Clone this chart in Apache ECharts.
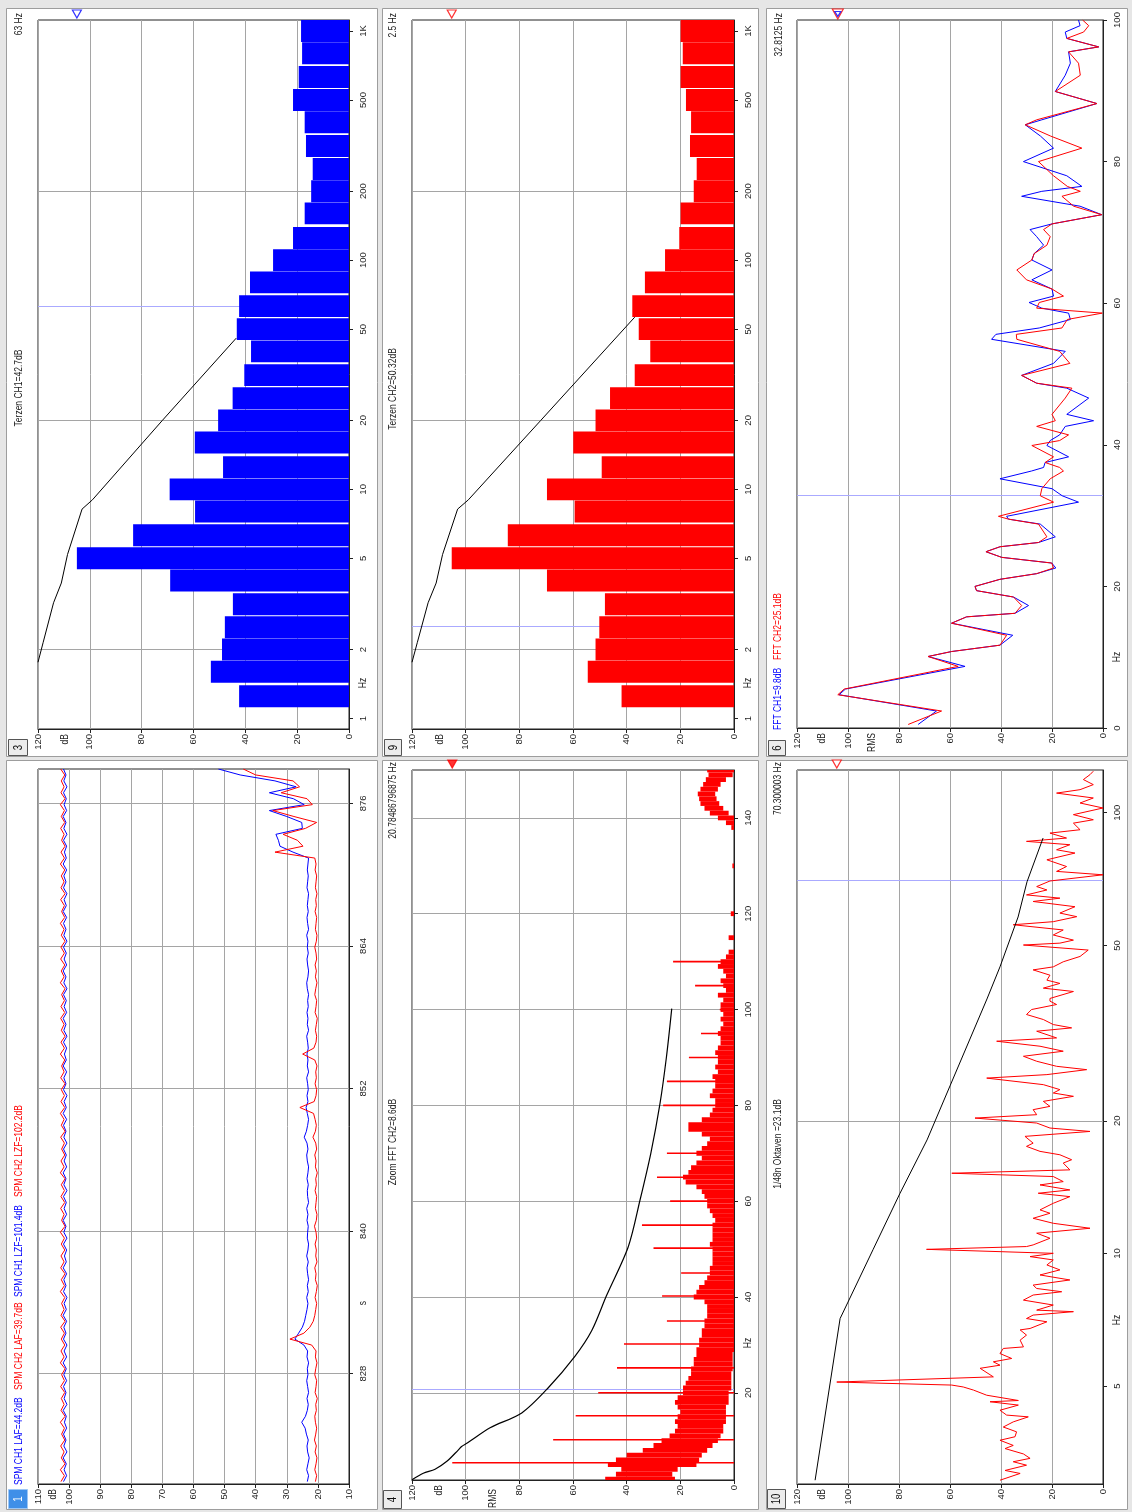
<!DOCTYPE html>
<html>
<head>
<meta charset="utf-8">
<script src="https://cdn.jsdelivr.net/npm/echarts@6/dist/echarts.min.js"></script>
<style>
html, body { margin: 0; padding: 0; background: #e6e6e6; }
#main { width: 1132px; height: 1512px; }
</style>
</head>
<body>
<div id="main"></div>
<script>
var FONT = "'Liberation Sans', Arial, sans-serif";
var NARROW = 0.74;   // squeeze factor to get an Arial Narrow look
var BLUE = '#0000ff';
var RED = '#ff0000';

// panels 3 + 9: third-octave bands
var terzFreq = [1.25, 1.6, 2, 2.5, 3.15, 4, 5, 6.3, 8, 10, 12.5, 16, 20, 25, 31.5, 40, 50, 63, 80, 100, 125, 160, 200, 250, 315, 400, 500, 630, 800, 1000];
var terzCh1 = [42.4, 53.3, 49, 47.9, 44.8, 69, 105, 83.3, 59.4, 69.2, 48.6, 59.5, 50.5, 44.9, 40.4, 37.8, 43.3, 42.4, 38.2, 29.3, 21.6, 17.1, 14.6, 14, 16.6, 17.1, 21.6, 19.4, 18.1, 18.5];
var terzCh2 = [41.9, 54.5, 51.6, 50.2, 48.1, 69.7, 105.2, 84.3, 59.4, 69.7, 49.3, 59.9, 51.6, 46.2, 37, 31.2, 35.5, 37.9, 33.2, 25.7, 20.4, 19.9, 15, 13.9, 16.4, 16, 17.9, 19.9, 19.1, 19.9];
// visible part of the black limit curve in each panel
var limitFreq1 = [1.76, 2.15, 3.2, 3.9, 5.2, 8.2, 9.0, 20, 45.7];
var limitLevel1 = [120, 118, 114, 111, 108.6, 103, 99, 72, 43.5];
var limitFreq2 = [1.76, 2.15, 3.2, 3.9, 5.2, 8.2, 9.0, 20, 56.4];
var limitLevel2 = [120, 118, 114, 111, 108.6, 103, 99, 72, 37];
var terzTicks = [1, 2, 5, 10, 20, 50, 100, 200, 500, 1000];
var terzGrid = [2, 20, 200];

// panel 6: FFT
var fftFreq = [0.5, 2.4, 4.7, 5.5, 8.7, 10.1, 10.8, 11.7, 13.1, 14.8, 15.7, 16.2, 17.3, 18.5, 19.4, 20.0, 21.0, 21.8, 22.6, 23.3, 24.1, 24.9, 25.6, 26.2, 27.0, 28.8, 29.5, 29.9, 31.9, 32.8, 33.8, 35.2, 36.3, 36.8, 37.5, 38.3, 39.9, 40.6, 41.4, 42.6, 43.4, 44.3, 46.6, 48.0, 48.7, 49.8, 51.5, 53.2, 54.9, 55.6, 56.5, 57.7, 58.6, 59.3, 60.1, 61.0, 62.0, 63.3, 64.7, 66.1, 67.0, 68.2, 69.4, 70.4, 71.2, 72.5, 73.7, 75.1, 75.8, 76.5, 78.0, 80.0, 81.9, 83.6, 85.2, 85.9, 88.2, 89.9, 92.2, 93.9, 95.5, 96.2, 97.4, 98.3, 99.2, 100];
var fftCh1 = [72.5, 65.3, 103.5, 101, 54.1, 68.6, 59.4, 40.4, 35.4, 59.4, 53.5, 34.5, 29.2, 35.1, 49.6, 50.2, 40.4, 26, 18.5, 20.1, 39.7, 45.9, 40.4, 25.3, 18.7, 24.6, 37.1, 37.8, 9.6, 16, 20, 40.4, 28, 23.3, 22.7, 13.5, 22, 20.7, 17, 14.8, 3.7, 14.2, 5.6, 14.2, 26, 31.9, 19.4, 14.8, 43.7, 42, 25, 12.8, 13.5, 24, 29, 19.4, 20, 27.9, 20, 27.9, 27, 23.3, 26, 28.6, 20, 0.5, 9, 31.9, 24, 8.3, 14.2, 31.2, 19.4, 24.5, 30.5, 24, 2.4, 18.7, 14.8, 12.8, 13.5, 1.7, 14.2, 14.8, 9, 9.6];
var fftCh2 = [76.4, 63.3, 104, 101.5, 56.8, 68.6, 59.4, 40.4, 37.8, 59.4, 53.5, 34.5, 31.9, 35.1, 49.6, 50.2, 40.4, 26, 19.4, 20.1, 39.7, 45.9, 40.4, 25.3, 22, 25.3, 37.1, 41, 19.4, 24.6, 24, 20.7, 15.5, 17, 22.7, 19.4, 27.9, 17, 13.5, 26, 18.7, 20, 14.8, 12.2, 26, 31.9, 13, 17, 33.8, 34, 16.1, 14, 0.3, 26, 25, 15.5, 20, 30, 33.8, 27.9, 27, 22, 20.7, 23.3, 20, 0.5, 11.5, 16.1, 8.9, 14, 19.4, 25.3, 8.3, 20.5, 30.5, 26, 2.4, 18.7, 8.9, 9.6, 13.5, 1.7, 14.2, 7.6, 5.6, 8];

// panel 1: level vs time, one value every 0.5 s from 818.9 s
var spmStart = 818.9;
var spmStep = 0.5;
var spmLafCh1 = [23.4, 23.0, 23.6, 23.2, 22.8, 23.3, 23.5, 23.1, 23.7, 24.1,
  25.2, 24.0, 23.4, 23.1, 23.5, 23.0, 23.3, 23.6, 23.2, 23.4, 23.0, 23.5, 23.3,
  24.5, 27.4, 26.2, 25.0, 24.3, 23.9,
  23.5, 23.2, 23.6, 23.1, 23.4, 23.0, 23.3, 23.5, 23.1, 23.6, 23.2, 23.0, 23.4, 23.3, 23.1, 23.5, 23.2, 23.6, 23.0, 23.3, 23.4, 23.1, 23.5, 23.2, 23.0, 23.4, 23.6, 23.2, 23.5,
  24.4, 23.7,
  23.3, 23.0, 23.4, 23.8, 23.2, 23.5, 23.1, 23.3, 23.6, 23.0, 23.4, 23.2, 23.5, 23.1, 23.3, 23.6, 23.0, 23.4, 23.2, 23.5, 23.1, 23.3, 23.0, 23.4, 23.6, 23.2, 23.0, 23.3, 23.5, 23.1, 23.4, 23.2, 23.6, 23.0, 23.3, 23.5, 23.1, 23.4, 23.2, 23.0, 23.5, 23.3, 23.1, 23.4, 23.2,
  23.0, 28.0, 32.2, 32.7, 33.5, 25.0, 25.2, 30.0, 35.6, 24.4, 27.9, 35.6, 27.0, 33.8, 45.0, 52.0];
var spmLafCh2 = [20.8, 20.4, 21.0, 20.6, 20.3, 20.9, 20.5, 21.1, 20.7, 20.4,
  20.8, 21.0, 20.5, 20.7, 20.2, 20.9, 20.6, 20.4, 21.0, 20.7, 20.3, 20.8, 20.6,
  22.0, 29.0, 24.5, 22.6, 21.5, 21.0,
  20.7, 20.4, 20.9, 20.5, 20.2, 20.8, 20.6, 21.0, 20.3, 20.7, 20.5, 20.9, 20.4, 20.6, 21.1, 20.5, 20.3, 20.8, 20.6, 20.4, 20.9, 20.5, 20.7, 20.2, 20.8, 20.6, 21.0, 20.4, 20.7,
  21.6, 20.8,
  20.5, 20.9, 21.4, 25.8, 21.2, 20.6, 20.4, 20.9, 20.5, 20.7, 20.3, 21.0, 24.9, 21.3, 20.6, 20.4, 20.8, 20.5, 20.2, 20.9, 20.6, 20.4, 21.0, 20.7, 20.3, 20.8, 20.5, 20.9, 20.4, 20.6, 21.0, 20.5, 20.3, 20.8, 20.6, 20.4, 20.9, 20.5, 20.7, 20.3, 20.8, 20.6, 20.4, 20.9, 20.6,
  21.0, 33.8, 24.8, 26.6, 31.2, 24.0, 20.4, 27.7, 34.5, 21.8, 23.5, 31.8, 25.9, 28.0, 40.0, 44.0];
var spmLzfCh1 = [101.8, 100.8, 101.6, 100.9, 101.9, 100.7, 101.7, 101.0, 101.8, 100.8,
  101.5, 100.9, 101.9, 100.7, 101.6, 101.0, 101.8, 100.8, 101.7, 100.9,
  101.9, 100.8, 101.6, 100.7, 101.8, 101.0, 101.7, 100.8, 101.9, 100.9,
  101.6, 100.7, 101.8, 101.0, 101.7, 100.8, 101.9, 100.9, 101.5, 100.8,
  101.8, 100.7, 101.7, 101.0, 101.9, 100.8, 101.6, 100.9, 101.8, 100.7,
  101.7, 101.0, 101.9, 100.8, 101.6, 100.9, 101.8, 100.7, 101.7, 101.0,
  101.8, 100.8, 101.9, 100.9, 101.6, 100.7, 101.8, 101.0, 101.7, 100.8,
  101.9, 100.9, 101.5, 100.8, 101.8, 100.7, 101.7, 101.0, 101.9, 100.8,
  101.6, 100.9, 101.8, 100.7, 101.7, 101.0, 101.9, 100.8, 101.6, 100.9,
  101.8, 100.7, 101.7, 101.0, 101.8, 100.8, 101.9, 100.9, 101.6, 100.7,
  101.8, 101.0, 101.7, 100.8, 101.9, 100.9, 101.5, 100.8, 101.8, 100.7,
  101.7, 101.0, 101.9, 100.8, 101.6, 100.9, 101.8, 100.7, 101.7, 101.0, 101.8];
var spmLzfCh2 = [102.6, 101.5, 102.8, 101.3, 102.5, 101.6, 102.7, 101.4, 102.4, 101.5,
  102.8, 101.3, 102.6, 101.6, 102.5, 101.4, 102.7, 101.5, 102.4, 101.3,
  102.8, 101.6, 102.6, 101.4, 102.5, 101.5, 102.7, 101.3, 102.6, 101.6,
  102.4, 101.4, 102.8, 101.5, 102.5, 101.3, 102.7, 101.6, 102.6, 101.4,
  102.5, 101.5, 102.8, 101.3, 102.4, 101.6, 102.7, 101.4, 102.6, 101.5,
  102.5, 101.3, 102.8, 101.6, 102.6, 101.4, 102.4, 101.5, 102.7, 101.3,
  102.5, 101.6, 102.8, 101.4, 102.6, 101.5, 102.5, 101.3, 102.7, 101.6,
  102.4, 101.4, 102.8, 101.5, 102.6, 101.3, 102.5, 101.6, 102.7, 101.4,
  102.6, 101.5, 102.4, 101.3, 102.8, 101.6, 102.5, 101.4, 102.7, 101.5,
  102.6, 101.3, 102.5, 101.6, 102.8, 101.4, 102.4, 101.5, 102.7, 101.3,
  102.6, 101.6, 102.5, 101.4, 102.8, 101.5, 102.6, 101.3, 102.4, 101.6,
  102.7, 101.4, 102.5, 101.5, 102.8, 101.3, 102.6, 101.6, 102.5, 101.4, 102.7];
var spmTicks = [828, 840, 852, 864, 876];

// panel 4: zoom FFT, noise band per 1 Hz bin (low / high) plus the harmonic lines
var zoomFreq = [2, 3, 4, 5, 6, 7, 8, 9, 10, 11, 12, 13, 14, 15, 16, 17, 18, 19, 20,
  21, 22, 23, 24, 25, 26, 27, 28, 29, 30, 31, 32, 33, 34, 35, 36, 37, 38, 39, 40,
  41, 42, 43, 44, 45, 46, 47, 48, 49, 50, 51, 52, 53, 54, 55, 56, 57, 58, 59, 60,
  61, 62, 63, 64, 65, 66, 67, 68, 69, 70, 71, 72, 73, 74, 75, 76, 77, 78, 79, 80,
  81, 82, 83, 84, 85, 86, 87, 88, 89, 90, 91, 92, 93, 94, 95, 96, 97, 98, 99, 100,
  101, 102, 103, 104, 105, 106, 107, 108, 109, 110, 111, 112, 115, 120, 130,
  138, 139, 140, 141, 142, 143, 144, 145, 146, 147, 148, 149, 150];
var zoomHigh = [48, 44, 42, 47, 44, 40, 34, 30, 27, 24, 22, 21, 22, 21, 20, 21, 22, 21, 19,
  19, 18, 17, 16, 16, 15, 15, 14, 14, 13, 13, 12, 12, 11, 11, 10, 10, 10, 11, 15,
  14, 13, 11, 10, 9, 9, 8, 8, 8, 8, 9, 8, 8, 8, 8, 7, 8, 9, 10, 10,
  11, 12, 14, 18, 19, 17, 16, 14, 12, 14, 12, 10, 9, 12, 17, 17, 12, 9, 8, 7,
  7, 9, 8, 7, 7, 8, 6, 7, 6, 6, 7, 6, 5, 5, 6, 5, 4, 5, 4, 5,
  5, 4, 6, 3, 4, 5, 3, 4, 6, 5, 3, 2, 2, 1.2, 0.6,
  1, 3, 6, 9, 11, 12.5, 13, 13.5, 12.5, 11.5, 10.5, 9.5, 10];
var zoomLow = [22, 23, 21, 14, 13, 12, 10, 8, 6, 5, 4, 4, 3, 3, 3, 3, 2, 2, 2,
  1, 1, 1, 1, 0.5, 0.5, 0.5, 0.5, 0, 0, 0, 0, 0, 0, 0, 0, 0, 0, 0, 0,
  0, 0, 0, 0, 0, 0, 0, 0, 0, 0, 0, 0, 0, 0, 0, 0, 0, 0, 0, 0,
  0, 0, 0, 0, 0, 0, 0, 0, 0, 0, 0, 0, 0, 0, 0, 0, 0, 0, 0, 0,
  0, 0, 0, 0, 0, 0, 0, 0, 0, 0, 0, 0, 0, 0, 0, 0, 0, 0, 0, 0,
  0, 0, 0, 0, 0, 0, 0, 0, 0, 0, 0, 0, 0, 0, 0,
  0, 0, 0, 2, 4, 5.5, 6.5, 7, 6, 5, 3, 0.5, 0];
var zoomSpikeFreq = [5.4, 10.2, 15.2, 20, 25.2, 30.2, 35, 40.2, 45, 50.2, 55, 60, 65, 70, 80, 85, 90, 95, 100, 105, 110];
var zoomSpikeLevel = [105, 67.4, 59, 50.6, 43.6, 41, 25, 26.8, 19.7, 30, 34.3, 23.8, 28.7, 25, 26.4, 25, 16.8, 12.3, 5.3, 14.5, 22.7];
var zoomCurveFreq = [1.84, 3.2, 4.06, 5.7, 8.1, 8.8, 9.5, 12.7, 15.8, 21, 27.6, 33, 40.3, 50.5, 60.3, 70, 80.3, 90, 100.2];
var zoomCurveLevel = [120, 115.8, 111.4, 107, 102.7, 101.5, 99.4, 90.9, 79.1, 69.3, 59.3, 53, 47.5, 39.4, 35, 31, 27.6, 25.2, 23.2];
var zoomTicks = [20, 40, 60, 80, 100, 120, 140];

// panel 10: 1/48 octave
var octFreq = [3.06, 3.17, 3.22, 3.31, 3.37, 3.43, 3.51, 3.61, 3.67, 3.77, 3.84, 3.94, 4.04, 4.15, 4.26, 4.30, 4.41, 4.53, 4.61, 4.64,
  4.77, 4.90, 4.98, 5.03, 5.11, 5.25, 5.49, 5.58, 5.68, 5.78, 5.93, 6.09, 6.14, 6.36, 6.53, 6.71, 6.76, 7.00, 7.12, 7.25,
  7.38, 7.44, 7.64, 7.84, 8.05, 8.19, 8.33, 8.48, 8.71, 8.94, 9.18, 9.42, 9.67, 9.84, 10.01, 10.22, 10.37, 10.46, 10.83, 11.12,
  11.41, 11.71, 12.02, 12.34, 12.56, 13.0, 13.46, 13.7, 13.94, 14.31, 14.56, 14.95, 15.21, 15.48, 16.04, 16.32, 16.75, 17.05, 17.5, 17.8,
  18.44, 18.92, 19.26, 19.77, 20.29, 20.65, 21.2, 21.57, 22.14, 22.73, 23.13, 23.54, 24.16, 25.0, 25.46, 26.13, 26.59, 27.3, 28.02, 28.77,
  29.53, 30.31, 30.84, 31.94, 32.5, 33.07, 33.95, 34.85, 35.77, 36.72, 37.37, 37.9, 39.3, 40.0, 41.0, 41.7, 42.8, 44.0, 44.7, 45.9,
  47.2, 48.8, 50.1, 50.6, 51.4, 52.8, 54.2, 55.7, 56.6, 58.1, 59.2, 61.2, 62.9, 64.0, 65.1, 66.8, 68.0, 70.0, 72.3, 73.6,
  75.5, 78.2, 81.0, 82.4, 84.6, 86.1, 87.6, 89.9, 91.5, 94.7, 96.4, 99.0, 102.5, 105.2, 108, 110.8, 112.8, 115.8, 118.9, 122, 124.2];
var octLevel = [40.4, 32.5, 38.4, 30, 35.2, 28.6, 31.2, 38.4, 35.2, 40.4, 34.5, 33.9, 39.1, 35.2, 29.3, 37.8, 40.4, 33.2, 44.3, 33.2,
  45.6, 50.8, 54.8, 59.3, 104.4, 43, 48.2, 40.4, 43, 35.8, 40.4, 39.1, 31.2, 32.5, 30, 32.5, 28.6, 22, 30, 27.4,
  11.6, 26, 19.5, 31.2, 27.4, 16.2, 26, 27.4, 13, 24.7, 16.9, 22, 19.5, 28.6, 19.5, 69.2, 30, 27.4, 20.8, 26,
  5.1, 19.5, 27.4, 20.8, 24.7, 19.5, 13, 25.4, 13, 24.7, 15.6, 19.5, 59.3, 13, 15.6, 12.3, 16.9, 24.7, 30, 27.4,
  30.6, 5.1, 20.8, 26, 50.2, 26, 27.4, 20.8, 23.4, 11.6, 19.5, 16.9, 23.4, 45.6, 22, 6.4, 18.2, 26, 31.2, 15.6,
  24.7, 41.7, 18.2, 26, 12.3, 19.5, 23.4, 30, 28, 18.2, 20.8, 20.8, 11.6, 23.4, 16.9, 22, 20.8, 27.4, 19.5, 15.6,
  9, 5.8, 31.2, 16.9, 11.6, 19.5, 15.6, 35.2, 19.5, 10.3, 16.9, 11, 27.4, 16.9, 30, 22, 26, 20.8, 0, 18.2,
  14.3, 22, 11, 18.2, 13, 30, 14.3, 20.8, 9, 11.6, 3.8, 11.6, 0, 9, 3.8, 18.2, 9, 3.8, 7.7, 5.1, 3.8];
var octCurveFreq = [3.06, 7.12, 7.76, 10.2, 13.7, 18.1, 24, 37.8, 44.7, 58, 69.7, 87.6];
var octCurveLevel = [112.9, 103.1, 100, 90.2, 79.6, 69, 60, 45.5, 40.4, 33.3, 29.8, 23.5];
var octTicks = [5, 10, 20, 50, 100];

// ---------------------------------------------------------------
var boxes = [
    {left: 38, top: 20, width: 311, height: 709},    // 3
    {left: 412, top: 20, width: 322, height: 709},   // 9
    {left: 797, top: 20, width: 306, height: 708},   // 6
    {left: 38, top: 769, width: 311, height: 715},   // 1
    {left: 412, top: 770, width: 322, height: 710},  // 4
    {left: 797, top: 770, width: 306, height: 714}   // 10
];

function pairs(xs, ys) {
    var out = [];
    for (var i = 0; i < xs.length; i++) {
        out.push([ys[i], xs[i]]);
    }
    return out;
}

function levelAxis(gi, min, max, step) {
    return {
        type: 'value', gridIndex: gi, position: 'bottom', inverse: true,
        min: min, max: max, interval: step,
        axisLine: {show: true, onZero: false, lineStyle: {color: '#222', width: 1}},
        axisTick: {show: true, length: 4, lineStyle: {color: '#222'}},
        axisLabel: {rotate: 90, margin: 5, fontSize: 9.5, fontFamily: FONT, color: '#1e1e1e',
            showMinLabel: true, showMaxLabel: true},
        splitLine: {show: true, lineStyle: {color: '#a5a5a5', width: 1}}
    };
}

function freqAxis(gi, type, min, max, ticks, fmt) {
    var axis = {
        type: type, gridIndex: gi, position: 'right', min: min, max: max,
        axisLine: {show: true, onZero: false, lineStyle: {color: '#222', width: 1}},
        axisTick: {show: true, length: 4, lineStyle: {color: '#222'}},
        axisLabel: {rotate: 90, margin: 9, fontSize: 9.5, fontFamily: FONT, color: '#1e1e1e',
            showMinLabel: true, showMaxLabel: true},
        splitLine: {show: false},
        minorTick: {show: false},
        minorSplitLine: {show: false}
    };
    if (type === 'log') axis.logBase = 10;
    if (ticks) {
        axis.axisTick.customValues = ticks;
        axis.axisLabel.customValues = ticks;
    } else {
        axis.interval = 20;
    }
    if (fmt) axis.axisLabel.formatter = fmt;
    return axis;
}

function gridLines(gi, values, cursor) {
    var d = [];
    for (var i = 0; i < values.length; i++) d.push({yAxis: values[i]});
    if (cursor) d.push({yAxis: cursor, lineStyle: {color: '#aaaaff', width: 1}});
    return {
        type: 'line', xAxisIndex: gi, yAxisIndex: gi, data: [], z: 1, silent: true,
        markLine: {
            silent: true, symbol: 'none', z: 1, animation: false,
            label: {show: false},
            emphasis: {disabled: true},
            lineStyle: {color: '#a5a5a5', type: 'solid', width: 1},
            data: d
        }
    };
}

var BAND = Math.pow(10, 0.05);
function barItem(color) {
    return function (params, api) {
        var top = api.coord([api.value(0), api.value(1) * BAND]);
        var bottom = api.coord([0, api.value(1) / BAND]);
        return {
            type: 'rect',
            shape: {x: top[0], y: top[1] + 0.5, width: bottom[0] - top[0], height: bottom[1] - top[1] - 1},
            style: {fill: color}
        };
    };
}

function rangeItem(params, api) {
    var a = api.coord([api.value(1), api.value(2) + 0.5]);
    var b = api.coord([api.value(0), api.value(2) - 0.5]);
    return {
        type: 'rect',
        shape: {x: a[0], y: a[1], width: Math.max(b[0] - a[0], 1), height: b[1] - a[1]},
        style: {fill: RED}
    };
}

function spikeItem(params, api) {
    var a = api.coord([api.value(0), api.value(1)]);
    var b = api.coord([0, api.value(1)]);
    return {
        type: 'rect',
        shape: {x: a[0], y: a[1] - 0.8, width: b[0] - a[0], height: 1.6},
        style: {fill: RED}
    };
}

function lineSeries(gi, data, color, z) {
    return {
        type: 'line', xAxisIndex: gi, yAxisIndex: gi, data: data, z: z || 3,
        showSymbol: false, symbol: 'none', silent: true,
        lineStyle: {color: color, width: 1}
    };
}

function marker(gi, value, top, color, fill, size) {
    return {
        type: 'scatter', xAxisIndex: gi, yAxisIndex: gi, data: [[value, top]],
        symbol: 'triangle', symbolRotate: 180, symbolSize: size || [9, 8], symbolOffset: [0, -6],
        clip: false, z: 6, silent: true,
        itemStyle: {color: fill, borderColor: color, borderWidth: 1.2}
    };
}

var spmData = {lafCh1: [], lafCh2: [], lzfCh1: [], lzfCh2: []};
for (var i = 0; i < spmLafCh1.length; i++) {
    var t = spmStart + spmStep * i;
    spmData.lafCh1.push([spmLafCh1[i], t]);
    spmData.lafCh2.push([spmLafCh2[i], t]);
    spmData.lzfCh1.push([spmLzfCh1[i], t]);
    spmData.lzfCh2.push([spmLzfCh2[i], t]);
}

var zoomBand = [];
for (var i = 0; i < zoomFreq.length; i++) {
    zoomBand.push([zoomLow[i], zoomHigh[i], zoomFreq[i]]);
}

var terzMax1 = Math.max.apply(null, terzCh1);
var terzMax2 = Math.max.apply(null, terzCh2);
var fftMax = Math.max(Math.max.apply(null, fftCh1), Math.max.apply(null, fftCh2));
var zoomMax = Math.max.apply(null, zoomSpikeLevel);
var octMax = Math.max.apply(null, octLevel);

var kFmt = function (v) { return v === 1000 ? '1K' : String(v); };

var series = [
    // panel 3
    gridLines(0, terzGrid, 63),
    lineSeries(0, pairs(limitFreq1, limitLevel1), '#000', 2),
    {type: 'custom', xAxisIndex: 0, yAxisIndex: 0, z: 8, silent: true, clip: true,
        renderItem: barItem(BLUE), encode: {x: 0, y: 1}, data: pairs(terzFreq, terzCh1)},
    marker(0, terzMax1, 1117, BLUE, '#fff'),
    // panel 9
    gridLines(1, terzGrid, 2.52),
    lineSeries(1, pairs(limitFreq2, limitLevel2), '#000', 2),
    {type: 'custom', xAxisIndex: 1, yAxisIndex: 1, z: 8, silent: true, clip: true,
        renderItem: barItem(RED), encode: {x: 0, y: 1}, data: pairs(terzFreq, terzCh2)},
    marker(1, terzMax2, 1117, RED, '#fff'),
    // panel 6
    gridLines(2, [], 32.8125),
    lineSeries(2, pairs(fftFreq, fftCh1), BLUE, 3),
    lineSeries(2, pairs(fftFreq, fftCh2), RED, 4),
    marker(2, fftMax, 100, RED, '#fff', [11, 10]),
    marker(2, fftMax, 100, BLUE, 'rgba(0,0,0,0)', [6, 5]),
    // panel 1
    gridLines(3, spmTicks),
    lineSeries(3, spmData.lzfCh1, BLUE, 3),
    lineSeries(3, spmData.lzfCh2, RED, 4),
    lineSeries(3, spmData.lafCh1, BLUE, 3),
    lineSeries(3, spmData.lafCh2, RED, 4),
    // panel 4
    gridLines(4, zoomTicks, 20.78486796875),
    {type: 'custom', xAxisIndex: 4, yAxisIndex: 4, z: 3, silent: true, clip: true,
        renderItem: rangeItem, encode: {x: [0, 1], y: 2}, data: zoomBand},
    {type: 'custom', xAxisIndex: 4, yAxisIndex: 4, z: 3, silent: true, clip: true,
        renderItem: spikeItem, encode: {x: 0, y: 1}, data: pairs(zoomSpikeFreq, zoomSpikeLevel)},
    {type: 'line', xAxisIndex: 4, yAxisIndex: 4, data: pairs(zoomCurveFreq, zoomCurveLevel), z: 4,
        showSymbol: false, symbol: 'none', silent: true, smooth: 0.3, lineStyle: {color: '#000', width: 1.2}},
    marker(4, zoomMax, 150, RED, RED),
    // panel 10
    gridLines(5, [20], 70.300003),
    lineSeries(5, pairs(octFreq, octLevel), RED, 3),
    lineSeries(5, pairs(octCurveFreq, octCurveLevel), '#000', 4),
    marker(5, octMax, 125, RED, '#fff')
];

// ---------------------------------------------------------------
function vtext(x, y, text, align, color, size) {
    return {
        type: 'text', x: x, y: y, rotation: Math.PI / 2, scaleX: NARROW, z: 20, silent: true,
        style: {
            text: text, fill: color || '#222',
            font: (size || 11.5) + 'px ' + FONT,
            align: align, verticalAlign: 'middle',
            textAlign: align, textVerticalAlign: 'middle'
        }
    };
}

var frames = [[6, 8, 371, 748], [382, 8, 376, 748], [766, 8, 361, 748],
    [6, 760, 371, 749], [382, 760, 376, 749], [766, 760, 361, 749]];
var numBoxes = [[8, 739, 19, 16, '3'], [384, 739, 17, 16, '9'], [768, 740, 17, 15, '6'],
    [8, 1489, 19, 19, '1'], [383, 1490, 18, 18, '4'], [767, 1489, 18, 19, '10']];

var graphics = [];
frames.forEach(function (f) {
    graphics.push({type: 'rect', z: -10, silent: true,
        shape: {x: f[0] + 0.5, y: f[1] + 0.5, width: f[2], height: f[3]},
        style: {fill: '#fff', stroke: '#9d9d9d', lineWidth: 1}});
});
numBoxes.forEach(function (b) {
    var active = b[4] === '1';
    graphics.push({type: 'rect', z: 20, silent: true,
        shape: {x: b[0] + 0.5, y: b[1] + 0.5, width: b[2], height: b[3]},
        style: {fill: active ? '#3f8fe8' : '#ececec', stroke: active ? '#9cc6f5' : '#555', lineWidth: 1}});
    graphics.push(vtext(b[0] + b[2] / 2 + 0.5, b[1] + b[3] / 2 + 0.5, b[4], 'center', active ? '#fff' : '#111', 13));
});

graphics.push(
    vtext(19, 13, '63 Hz', 'right'),
    vtext(18.5, 388, 'Terzen CH1=42.7dB', 'center'),
    vtext(393, 13, '2.5 Hz', 'right'),
    vtext(393, 389, 'Terzen CH2=50.32dB', 'center'),
    vtext(779, 13, '32.8125 Hz', 'right'),
    vtext(778, 730, 'FFT CH1=9.8dB', 'left', BLUE),
    vtext(778, 660, 'FFT CH2=25.1dB', 'left', RED),
    vtext(18.5, 1485, 'SPM CH1 LAF=44.2dB', 'left', BLUE),
    vtext(18.5, 1390, 'SPM CH2 LAF=39.7dB', 'left', RED),
    vtext(18.5, 1297, 'SPM CH1 LZF=101.4dB', 'left', BLUE),
    vtext(18.5, 1197, 'SPM CH2 LZF=102.2dB', 'left', RED),
    vtext(393, 762, '20.78486796875 Hz', 'right'),
    vtext(393, 1142, 'Zoom FFT CH2=8.6dB', 'center'),
    vtext(778, 762, '70.300003 Hz', 'right'),
    vtext(778, 1144, '1/48n Oktaven =23.1dB', 'center'),
    // units
    vtext(363, 683, 'Hz', 'center', '#1e1e1e', 11.5),
    vtext(748, 683, 'Hz', 'center', '#1e1e1e', 11.5),
    vtext(1117, 657, 'Hz', 'center', '#1e1e1e', 11.5),
    vtext(363, 1303, 's', 'center', '#1e1e1e', 11.5),
    vtext(748, 1343, 'Hz', 'center', '#1e1e1e', 11.5),
    vtext(1117, 1320, 'Hz', 'center', '#1e1e1e', 11.5),
    vtext(65, 734, 'dB', 'right', '#1e1e1e', 11.5),
    vtext(440, 734, 'dB', 'right', '#1e1e1e', 11.5),
    vtext(822, 733, 'dB', 'right', '#1e1e1e', 11.5),
    vtext(872, 733, 'RMS', 'right', '#1e1e1e', 11.5),
    vtext(53, 1489, 'dB', 'right', '#1e1e1e', 11.5),
    vtext(439, 1485, 'dB', 'right', '#1e1e1e', 11.5),
    vtext(493, 1489, 'RMS', 'right', '#1e1e1e', 11.5),
    vtext(822, 1489, 'dB', 'right', '#1e1e1e', 11.5)
);

var grids = boxes.map(function (b) {
    return {
        left: b.left, top: b.top, width: b.width, height: b.height,
        show: true, backgroundColor: '#fff', borderColor: '#222', borderWidth: 1,
        containLabel: false, outerBoundsMode: 'none'
    };
});

var option = {
    animation: false,
    backgroundColor: 'transparent',
    textStyle: {fontFamily: FONT},
    grid: grids,
    xAxis: [
        levelAxis(0, 0, 120, 20),
        levelAxis(1, 0, 120, 20),
        levelAxis(2, 0, 120, 20),
        levelAxis(3, 10, 110, 10),
        levelAxis(4, 0, 120, 20),
        levelAxis(5, 0, 120, 20)
    ],
    yAxis: [
        freqAxis(0, 'log', 0.9, 1117, terzTicks, kFmt),
        freqAxis(1, 'log', 0.9, 1117, terzTicks, kFmt),
        freqAxis(2, 'value', 0, 100, null, null),
        freqAxis(3, 'value', 818.7, 878.9, spmTicks, null),
        freqAxis(4, 'value', 1.8, 150, zoomTicks, null),
        freqAxis(5, 'log', 3, 125, octTicks, null)
    ],
    series: series,
    graphic: {elements: graphics}
};

var myChart = echarts.init(document.getElementById('main'));
myChart.setOption(option);
</script>
</body>
</html>
